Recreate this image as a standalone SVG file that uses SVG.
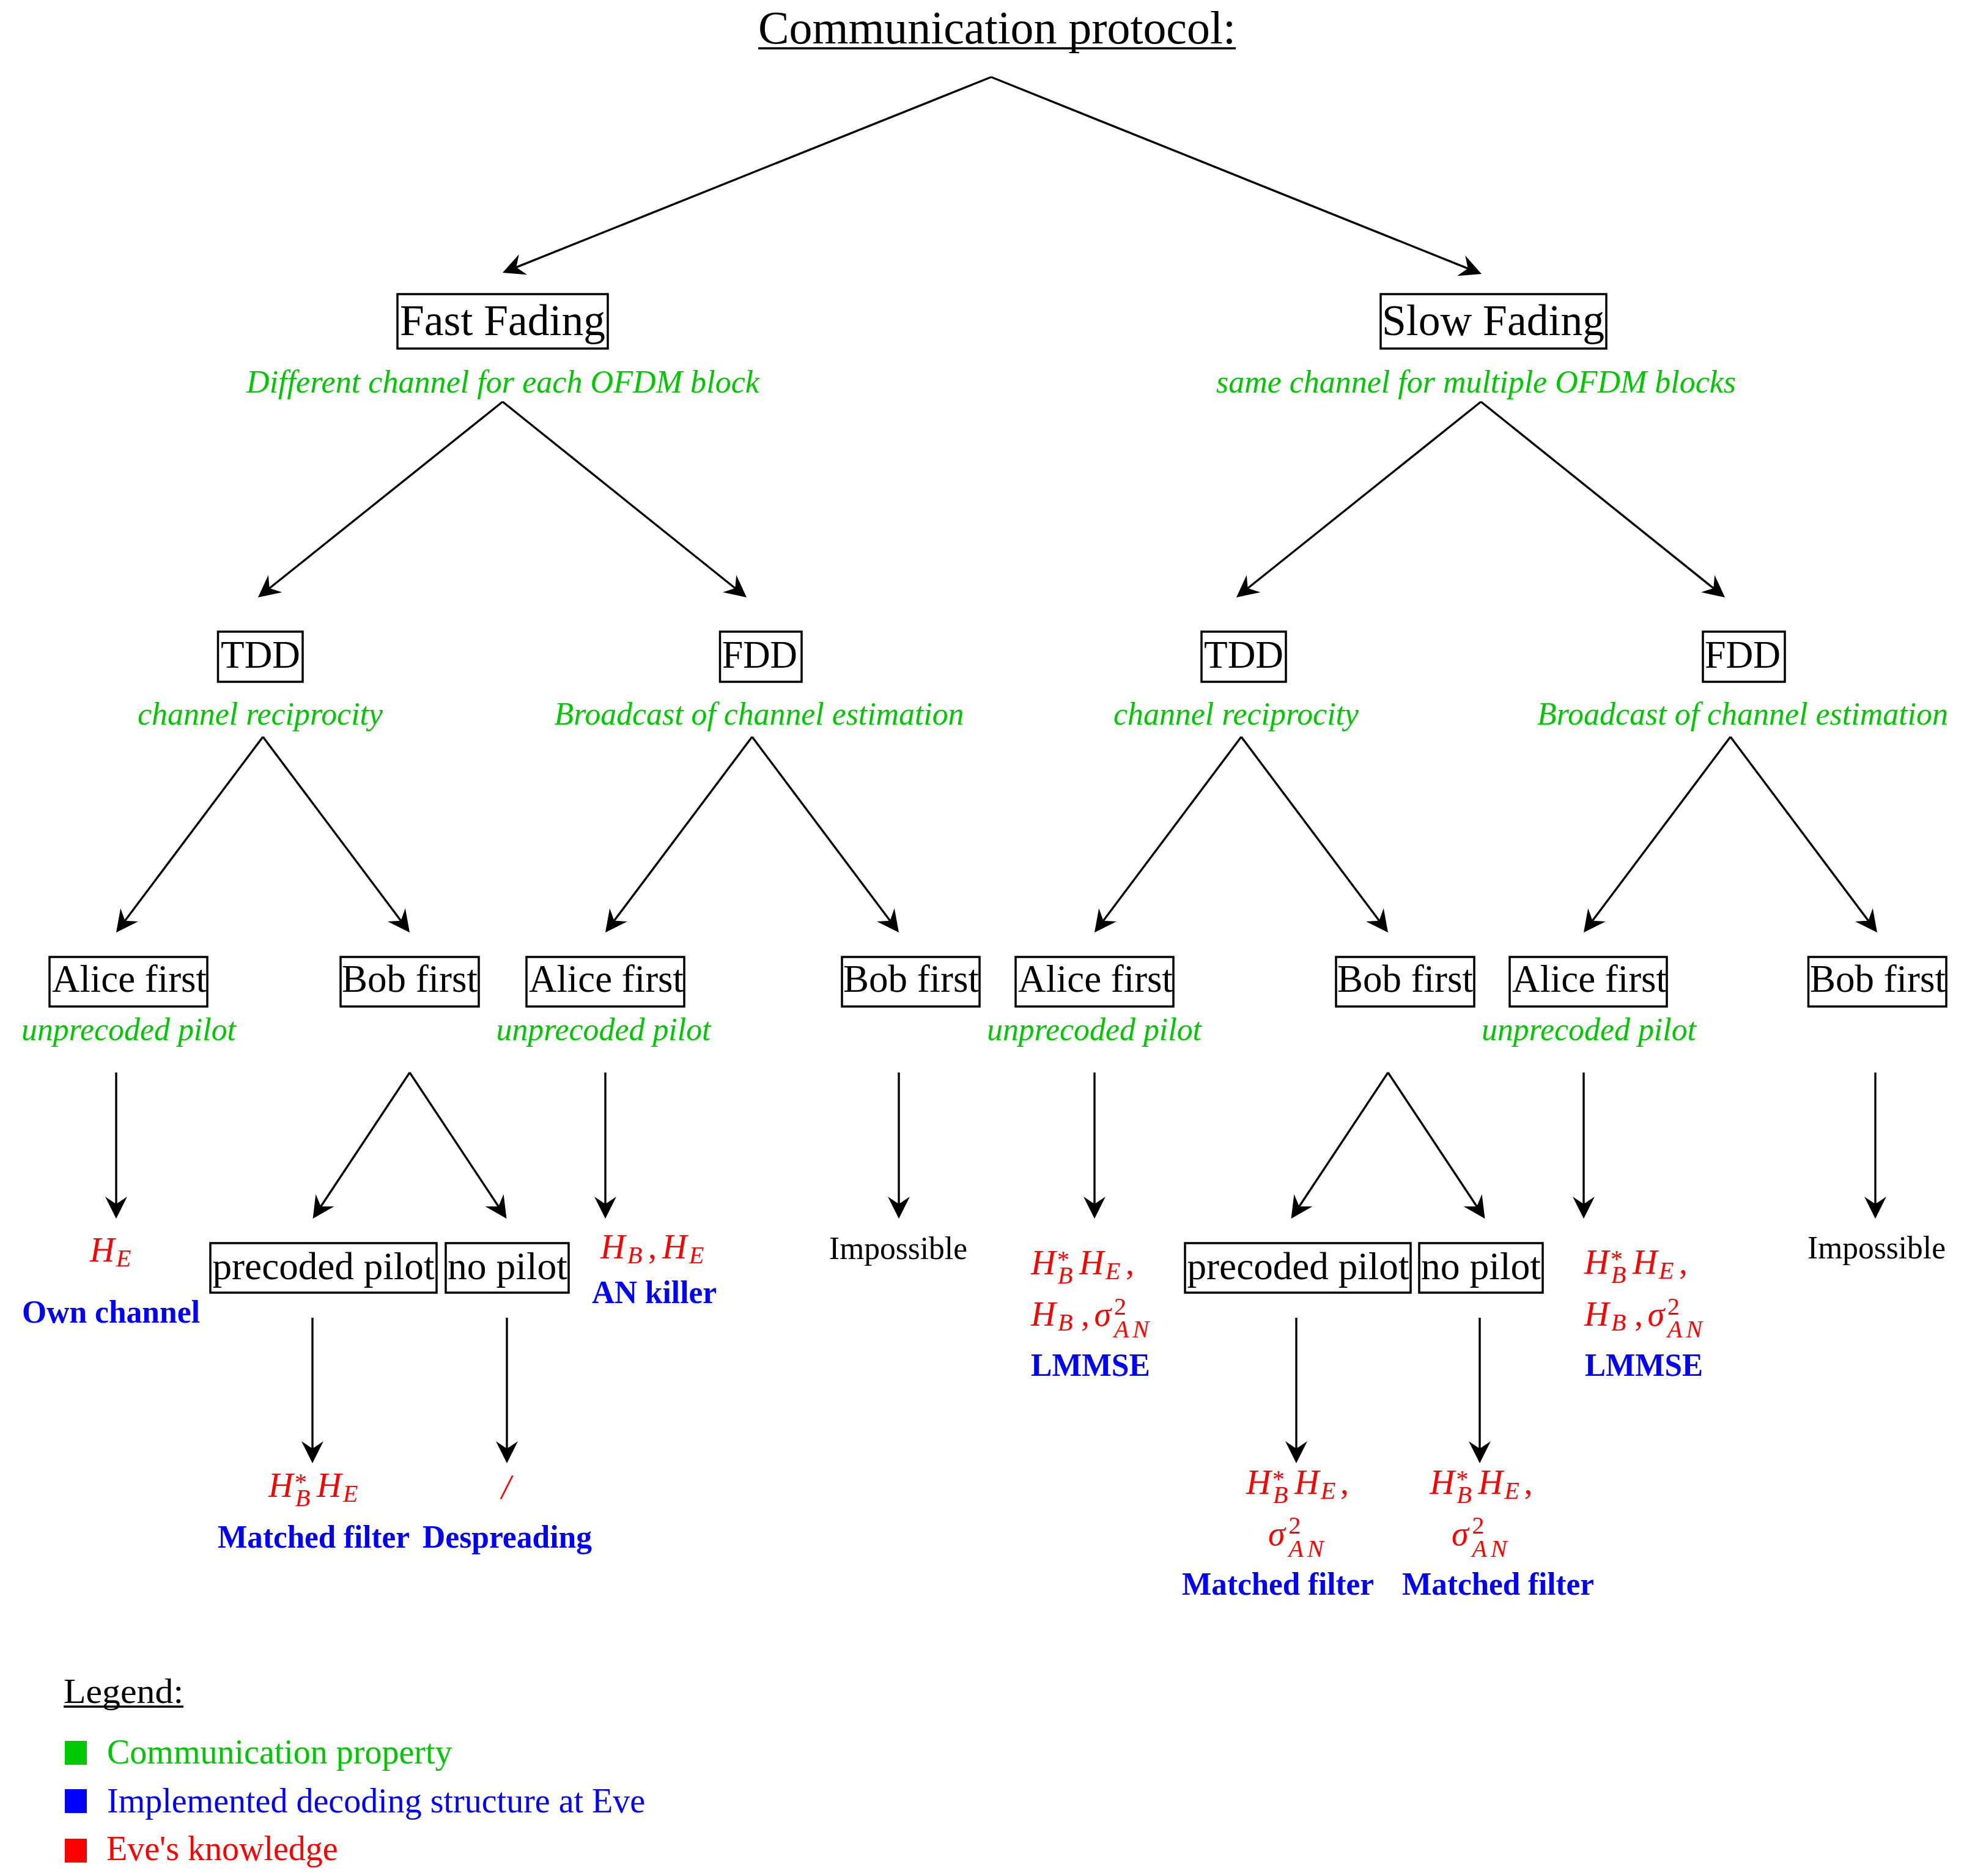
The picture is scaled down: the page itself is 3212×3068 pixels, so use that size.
<svg xmlns="http://www.w3.org/2000/svg" width="3212" height="3068" viewBox="0 0 3212 3068">
<style>
text{font-family:"Liberation Serif","Times New Roman",serif;}
.ln{stroke:#000;stroke-width:3.4;fill:none;marker-end:url(#ah);}
.box{fill:none;stroke:#000;stroke-width:3.5;}
.ul{stroke:#000;stroke-width:3.5;}
.n1{font-size:72px;fill:#000;}
.n2{font-size:63px;fill:#000;}
.g{font-size:52px;font-style:italic;fill:#00C800;}
.b{font-size:52px;font-weight:bold;fill:#0000FF;}
.k{font-size:52px;fill:#000;}
.m{fill:#FF0000;}
.mi{font-size:56px;font-style:italic;}
.ms{font-size:40px;font-style:italic;}
.an{font-size:40px;font-style:italic;letter-spacing:6px;}
.mu{font-size:40px;font-style:normal;}
.mc{font-size:56px;font-style:normal;}
.lg{font-size:56px;}
</style>
<defs>
<marker id="ah" markerUnits="userSpaceOnUse" markerWidth="36" markerHeight="36" viewBox="0 0 36 36" refX="12" refY="18" orient="auto">
<path d="M36,18 L0,0 L12,18 L0,36 Z" fill="#000"/>
</marker>
</defs>
<rect width="3212" height="3068" fill="#fff"/>

<g id="title">
<text x="1240" y="71" font-size="76" textLength="781" lengthAdjust="spacingAndGlyphs">Communication protocol:</text>
<line class="ul" x1="1240" y1="79" x2="2021" y2="79"/>
</g>

<g id="connectors">
<line class="ln" x1="1621" y1="126" x2="844.3" y2="437.1"/>
<line class="ln" x1="1621" y1="126" x2="2400.7" y2="439.1"/>
<line class="ln" x1="822" y1="657" x2="440.7" y2="962"/>
<line class="ln" x1="822" y1="657" x2="1202.3" y2="962"/>
<line class="ln" x1="2422" y1="657" x2="2040.7" y2="962"/>
<line class="ln" x1="2422" y1="657" x2="2802.3" y2="962"/>
<line class="ln" x1="430" y1="1205" x2="204.4" y2="1505.8"/>
<line class="ln" x1="430" y1="1205" x2="655.6" y2="1505.8"/>
<line class="ln" x1="1230" y1="1205" x2="1004.4" y2="1505.8"/>
<line class="ln" x1="1230" y1="1205" x2="1455.6" y2="1505.8"/>
<line class="ln" x1="2030" y1="1205" x2="1804.4" y2="1505.8"/>
<line class="ln" x1="2030" y1="1205" x2="2255.6" y2="1505.8"/>
<line class="ln" x1="2830" y1="1205" x2="2604.4" y2="1505.8"/>
<line class="ln" x1="2830" y1="1205" x2="3055.6" y2="1505.8"/>
<line class="ln" x1="190" y1="1754" x2="190" y2="1969"/>
<line class="ln" x1="990" y1="1754" x2="990" y2="1969"/>
<line class="ln" x1="1470" y1="1754" x2="1470" y2="1969"/>
<line class="ln" x1="1790" y1="1754" x2="1790" y2="1969"/>
<line class="ln" x1="2590" y1="1754" x2="2590" y2="1969"/>
<line class="ln" x1="3067" y1="1754" x2="3067" y2="1969"/>
<line class="ln" x1="670" y1="1754" x2="524.8" y2="1973"/>
<line class="ln" x1="670" y1="1754" x2="815.2" y2="1973"/>
<line class="ln" x1="2270" y1="1754" x2="2124.8" y2="1973"/>
<line class="ln" x1="2270" y1="1754" x2="2415.2" y2="1973"/>
<line class="ln" x1="511" y1="2155" x2="511" y2="2369"/>
<line class="ln" x1="829" y1="2155" x2="829" y2="2369"/>
<line class="ln" x1="2120" y1="2155" x2="2120" y2="2369"/>
<line class="ln" x1="2420" y1="2155" x2="2420" y2="2369"/>
</g>

<g id="fast-fading">
<rect class="box" x="650" y="481" width="344" height="89"/>
<text class="n1" x="654" y="548" textLength="336" lengthAdjust="spacingAndGlyphs">Fast Fading</text>
<text class="g" x="403" y="642" textLength="839" lengthAdjust="spacingAndGlyphs">Different channel for each OFDM block</text>
</g>
<g id="slow-fading">
<rect class="box" x="2258" y="481" width="369" height="89"/>
<text class="n1" x="2260" y="548" textLength="364" lengthAdjust="spacingAndGlyphs">Slow Fading</text>
<text class="g" x="1989" y="642" textLength="850" lengthAdjust="spacingAndGlyphs">same channel for multiple OFDM blocks</text>
</g>

<g id="tdd-fast">
<rect class="box" x="356.5" y="1033" width="138.5" height="82"/>
<text class="n2" x="361" y="1092" textLength="130" lengthAdjust="spacingAndGlyphs">TDD</text>
<text class="g" x="225" y="1185" textLength="401" lengthAdjust="spacingAndGlyphs">channel reciprocity</text>
</g>
<g id="fdd-fast">
<rect class="box" x="1177.5" y="1033" width="133.5" height="82"/>
<text class="n2" x="1181" y="1092" textLength="123" lengthAdjust="spacingAndGlyphs">FDD</text>
<text class="g" x="906.5" y="1185" textLength="670" lengthAdjust="spacingAndGlyphs">Broadcast of channel estimation</text>
</g>
<g id="tdd-slow">
<rect class="box" x="1965" y="1033" width="138" height="82"/>
<text class="n2" x="1969" y="1092" textLength="130" lengthAdjust="spacingAndGlyphs">TDD</text>
<text class="g" x="1821" y="1185" textLength="401" lengthAdjust="spacingAndGlyphs">channel reciprocity</text>
</g>
<g id="fdd-slow">
<rect class="box" x="2785" y="1033" width="134" height="82"/>
<text class="n2" x="2788" y="1092" textLength="124" lengthAdjust="spacingAndGlyphs">FDD</text>
<text class="g" x="2514" y="1185" textLength="672" lengthAdjust="spacingAndGlyphs">Broadcast of channel estimation</text>
</g>

<g id="alice-1">
<rect class="box" x="81" y="1565" width="258" height="81"/>
<text class="n2" x="85" y="1622" textLength="253" lengthAdjust="spacingAndGlyphs">Alice first</text>
<text class="g" x="35" y="1701" textLength="351" lengthAdjust="spacingAndGlyphs">unprecoded pilot</text>
</g>
<g id="bob-1">
<rect class="box" x="557" y="1565" width="226" height="81"/>
<text class="n2" x="559" y="1622" textLength="222" lengthAdjust="spacingAndGlyphs">Bob first</text>
</g>
<g id="alice-2">
<rect class="box" x="861" y="1565" width="258" height="81"/>
<text class="n2" x="865" y="1622" textLength="253" lengthAdjust="spacingAndGlyphs">Alice first</text>
<text class="g" x="811.5" y="1701" textLength="351" lengthAdjust="spacingAndGlyphs">unprecoded pilot</text>
</g>
<g id="bob-2">
<rect class="box" x="1377" y="1565" width="225" height="81"/>
<text class="n2" x="1379" y="1622" textLength="222" lengthAdjust="spacingAndGlyphs">Bob first</text>
</g>
<g id="alice-3">
<rect class="box" x="1661" y="1565" width="258" height="81"/>
<text class="n2" x="1665" y="1622" textLength="253" lengthAdjust="spacingAndGlyphs">Alice first</text>
<text class="g" x="1614" y="1701" textLength="351" lengthAdjust="spacingAndGlyphs">unprecoded pilot</text>
</g>
<g id="bob-3">
<rect class="box" x="2185" y="1565" width="226" height="81"/>
<text class="n2" x="2187" y="1622" textLength="222" lengthAdjust="spacingAndGlyphs">Bob first</text>
</g>
<g id="alice-4">
<rect class="box" x="2469" y="1565" width="257" height="81"/>
<text class="n2" x="2473" y="1622" textLength="253" lengthAdjust="spacingAndGlyphs">Alice first</text>
<text class="g" x="2423" y="1701" textLength="351" lengthAdjust="spacingAndGlyphs">unprecoded pilot</text>
</g>
<g id="bob-4">
<rect class="box" x="2957.5" y="1565" width="225.5" height="81"/>
<text class="n2" x="2960" y="1622" textLength="222" lengthAdjust="spacingAndGlyphs">Bob first</text>
</g>

<g id="precoded-1">
<rect class="box" x="344" y="2033" width="370" height="81"/>
<text class="n2" x="347.5" y="2092" textLength="363" lengthAdjust="spacingAndGlyphs">precoded pilot</text>
</g>
<g id="nopilot-1">
<rect class="box" x="729" y="2033" width="201" height="81"/>
<text class="n2" x="732" y="2092" textLength="196" lengthAdjust="spacingAndGlyphs">no pilot</text>
</g>
<g id="precoded-2">
<rect class="box" x="1938" y="2033" width="369" height="81"/>
<text class="n2" x="1941.5" y="2092" textLength="363" lengthAdjust="spacingAndGlyphs">precoded pilot</text>
</g>
<g id="nopilot-2">
<rect class="box" x="2321" y="2033" width="202" height="81"/>
<text class="n2" x="2324" y="2092" textLength="196" lengthAdjust="spacingAndGlyphs">no pilot</text>
</g>

<g id="result-alice-1">
<text class="m"><tspan class="mi" x="147" y="2063">H</tspan><tspan class="ms" x="190" y="2071">E</tspan></text>
<text class="b" x="36" y="2163" textLength="291" lengthAdjust="spacingAndGlyphs">Own channel</text>
</g>
<g id="result-alice-2">
<text class="m"><tspan class="mi" x="982" y="2058">H</tspan><tspan class="ms" x="1026" y="2066">B</tspan><tspan class="mc" x="1060" y="2058">,</tspan><tspan class="mi" x="1083" y="2058">H</tspan><tspan class="ms" x="1127" y="2066">E</tspan></text>
<text class="b" x="968" y="2131" textLength="204" lengthAdjust="spacingAndGlyphs">AN killer</text>
</g>
<g id="result-bob-2">
<text class="k" x="1356" y="2059" textLength="226" lengthAdjust="spacingAndGlyphs">Impossible</text>
</g>
<g id="result-alice-3">
<text class="m"><tspan class="mi" x="1686" y="2084">H</tspan><tspan class="mu" x="1729" y="2073">*</tspan><tspan class="ms" x="1730" y="2099">B</tspan><tspan class="mi" x="1765" y="2084">H</tspan><tspan class="ms" x="1808" y="2092">E</tspan><tspan class="mc" x="1841" y="2084">,</tspan></text>
<text class="m"><tspan class="mi" x="1686" y="2168">H</tspan><tspan class="ms" x="1730" y="2176">B</tspan><tspan class="mc" x="1768" y="2168">,</tspan><tspan class="mi" x="1789.5" y="2168">σ</tspan><tspan class="mu" x="1822" y="2150">2</tspan><tspan class="an" x="1822" y="2187">AN</tspan></text>
<text class="b" x="1686" y="2250" textLength="195" lengthAdjust="spacingAndGlyphs">LMMSE</text>
</g>
<g id="result-alice-4">
<text class="m"><tspan class="mi" x="2591" y="2083">H</tspan><tspan class="mu" x="2634" y="2072">*</tspan><tspan class="ms" x="2635" y="2098">B</tspan><tspan class="mi" x="2670" y="2083">H</tspan><tspan class="ms" x="2713" y="2091">E</tspan><tspan class="mc" x="2746" y="2083">,</tspan></text>
<text class="m"><tspan class="mi" x="2591" y="2168">H</tspan><tspan class="ms" x="2635" y="2176">B</tspan><tspan class="mc" x="2673" y="2168">,</tspan><tspan class="mi" x="2694.5" y="2168">σ</tspan><tspan class="mu" x="2727" y="2150">2</tspan><tspan class="an" x="2727" y="2187">AN</tspan></text>
<text class="b" x="2592" y="2250" textLength="193" lengthAdjust="spacingAndGlyphs">LMMSE</text>
</g>
<g id="result-bob-4">
<text class="k" x="2956" y="2058" textLength="226" lengthAdjust="spacingAndGlyphs">Impossible</text>
</g>
<g id="result-precoded-1">
<text class="m"><tspan class="mi" x="439" y="2448">H</tspan><tspan class="mu" x="482" y="2437">*</tspan><tspan class="ms" x="483" y="2463">B</tspan><tspan class="mi" x="518" y="2448">H</tspan><tspan class="ms" x="561" y="2456">E</tspan></text>
<text class="b" x="356" y="2531" textLength="314" lengthAdjust="spacingAndGlyphs">Matched filter</text>
</g>
<g id="result-nopilot-1">
<text class="m"><tspan class="mi" x="820" y="2451">/</tspan></text>
<text class="b" x="691" y="2531" textLength="277" lengthAdjust="spacingAndGlyphs">Despreading</text>
</g>
<g id="result-precoded-2">
<text class="m"><tspan class="mi" x="2038" y="2443">H</tspan><tspan class="mu" x="2081" y="2432">*</tspan><tspan class="ms" x="2082" y="2458">B</tspan><tspan class="mi" x="2117" y="2443">H</tspan><tspan class="ms" x="2160" y="2451">E</tspan><tspan class="mc" x="2192" y="2443">,</tspan></text>
<text class="m"><tspan class="mi" x="2074" y="2527">σ</tspan><tspan class="mu" x="2107.5" y="2508">2</tspan><tspan class="an" x="2107.5" y="2546">AN</tspan></text>
<text class="b" x="1933" y="2608" textLength="314" lengthAdjust="spacingAndGlyphs">Matched filter</text>
</g>
<g id="result-nopilot-2">
<text class="m"><tspan class="mi" x="2338.5" y="2443">H</tspan><tspan class="mu" x="2381.5" y="2432">*</tspan><tspan class="ms" x="2382.5" y="2458">B</tspan><tspan class="mi" x="2417.5" y="2443">H</tspan><tspan class="ms" x="2460.5" y="2451">E</tspan><tspan class="mc" x="2492.5" y="2443">,</tspan></text>
<text class="m"><tspan class="mi" x="2374" y="2527">σ</tspan><tspan class="mu" x="2407.5" y="2508">2</tspan><tspan class="an" x="2407.5" y="2546">AN</tspan></text>
<text class="b" x="2293" y="2608" textLength="314" lengthAdjust="spacingAndGlyphs">Matched filter</text>
</g>

<g id="legend">
<text x="104" y="2785" font-size="58" textLength="196" lengthAdjust="spacingAndGlyphs">Legend:</text>
<line class="ul" x1="104" y1="2791" x2="300" y2="2791"/>
<rect x="106" y="2847" width="36" height="39" fill="#00C800"/>
<text class="lg" x="175" y="2884" fill="#00C800">Communication property</text>
<rect x="106" y="2926" width="36" height="39" fill="#0000FF"/>
<text class="lg" x="175" y="2964" fill="#0000FF">Implemented decoding structure at Eve</text>
<rect x="106" y="3007" width="36" height="39" fill="#FF0000"/>
<text class="lg" x="174" y="3042" fill="#FF0000">Eve's knowledge</text>
</g>
</svg>
